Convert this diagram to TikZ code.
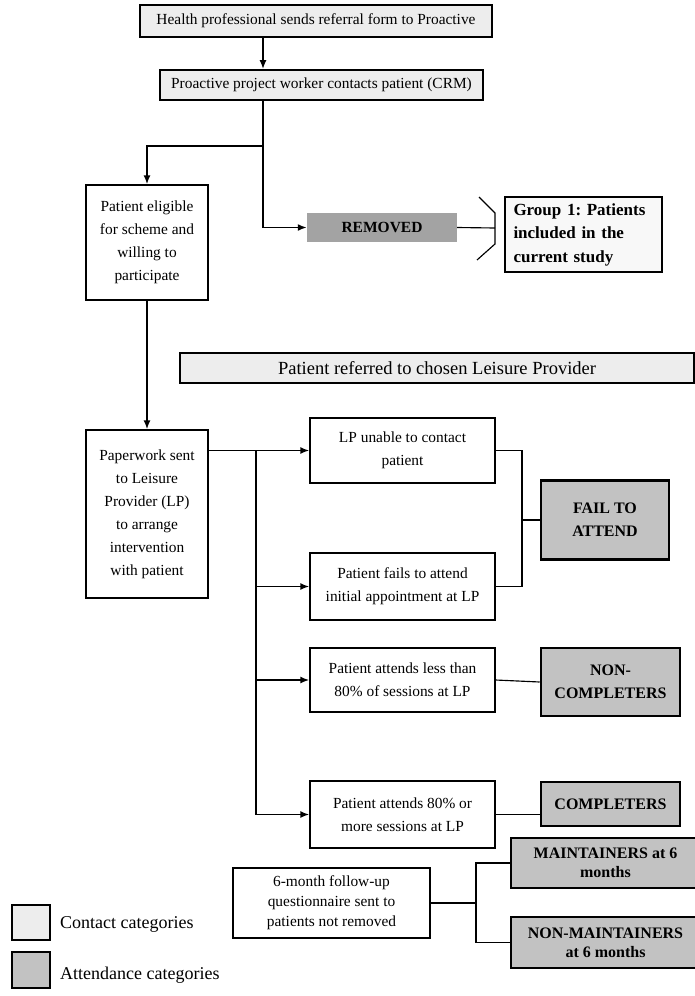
\documentclass[tikz,border=0pt]{standalone}
\usepackage{fontspec}
\setmainfont{Liberation Serif}
\frenchspacing
\usepackage{tikz}
\tikzset{
font={\fontsize{15.4pt}{23pt}\selectfont}}
\usetikzlibrary{positioning}
\usetikzlibrary{arrows.meta}
\usepackage{xcolor}
\definecolor{contactgray}{gray}{0.93}
\definecolor{attendgray}{gray}{0.76}
\definecolor{removedgray}{gray}{0.64}
\tikzset{
  plainbox/.style={draw=black, line width=0.45mm, fill=white, align=center, inner sep=1pt},
  contactbox/.style={plainbox, fill=contactgray, line width=0.6mm},
  attendbox/.style={plainbox, fill=attendgray, line width=0.9mm,
    font={\fontsize{16pt}{23pt}\selectfont\bfseries}},
  flow/.style={line width=0.6mm, arrows={-Latex[length=9pt,width=7pt]}},
  link/.style={line width=0.4mm}
}

\begin{document}
\begin{tikzpicture}[x=1pt, y=-1pt]
    \useasboundingbox (0,0) rectangle (694,996);

    % Contact boxes at the top
    \node [contactbox, minimum width=352pt, minimum height=32pt] (hp) at (316,21)
      {Health professional sends referral form to Proactive};
    \node [contactbox, minimum width=323pt, minimum height=30pt] (crm) at (321.5,85)
      {Proactive project worker contacts patient (CRM)};
    % trunk and split points
    \coordinate (trunk) at (263,0);
    \coordinate (split) at (263,146);

    % Eligible patient
    \node [plainbox, minimum width=122pt, minimum height=115pt] (elig) at (147,242.5)
      {Patient eligible\\for scheme and\\willing to\\participate};
    % Removed
    \node [fill=removedgray, minimum width=150pt, minimum height=29pt,
      font={\fontsize{15.5pt}{17pt}\selectfont\bfseries}] (removed) at (382,227.5) {REMOVED};
    % Group 1 box
    \node [draw=black, line width=0.6mm, fill=contactgray!40, align=left,
      text width=140pt, inner xsep=8.5pt, minimum height=75pt,
      font={\fontsize{17pt}{23.5pt}\selectfont\bfseries}] (group) at (583.5,234.5)
      {Group 1: Patients\\included in the\\current study};
    \coordinate (brace) at (495,228);

    \draw [flow] (hp.south -| trunk) -- (crm.north -| trunk);
    \draw [flow] (crm.south -| trunk) -- (split) -| (elig.north);
    \draw [flow] (split) |- (removed.west);
    \draw [link] (removed.east) -- (brace);
    % bracket
    \draw [link] (479,197) -- (495,213) -- (495,244) -- (477,260);

    % Leisure Provider banner
    \node [contactbox, line width=0.4mm, minimum width=514pt, minimum height=30pt,
      font={\fontsize{18.5pt}{20pt}\selectfont}] (referred) at (437,368)
      {Patient referred to chosen Leisure Provider};

    % Paperwork box
    \node [plainbox, minimum width=122pt, minimum height=168pt] (paper) at (147,514)
      {Paperwork sent\\to Leisure\\Provider (LP)\\to arrange\\intervention\\with patient};
    \draw [flow] (elig.south) -- (paper.north);

    % Outcome boxes
    \node [plainbox, minimum width=185pt, minimum height=65pt] (lpu) at (402.5,450.5)
      {LP unable to contact\\patient};
    \node [plainbox, minimum width=185pt, minimum height=67pt] (fails) at (402.5,586.5)
      {Patient fails to attend\\initial appointment at LP};
    \node [plainbox, minimum width=185pt, minimum height=64pt] (less) at (402.5,680)
      {Patient attends less than\\80\% of sessions at LP};
    \node [plainbox, minimum width=185pt, minimum height=67pt] (more) at (402.5,814.5)
      {Patient attends 80\% or\\more sessions at LP};

    % Attendance categories
    \node [attendbox, minimum width=128pt, minimum height=79pt] (fta) at (605,520)
      {FAIL TO\\ATTEND};
    \node [attendbox, minimum width=139pt, minimum height=68pt] (noncomp) at (610.5,682)
      {NON-\\COMPLETERS};
    \node [attendbox, minimum width=139pt, minimum height=44pt] (comp) at (610.5,804)
      {COMPLETERS};

    % distribution line
    \coordinate (bus) at (256,450.5);
    \draw [flow] (paper.east |- lpu.west) -- (lpu.west);
    \draw [line width=0.6mm] (bus) -- (bus |- more.west);
    \draw [flow] (bus |- fails.west) -- (fails.west);
    \draw [flow] (bus |- less.west) -- (less.west);
    \draw [flow] (bus |- more.west) -- (more.west);

    % joins to attendance boxes
    \coordinate (join) at (522,520);
    \draw [link] (lpu.east) -| (join |- fails.east) -- (fails.east);
    \draw [link] (join) -- (fta.west);
    \draw [link] (less.east) -- (noncomp.west);
    \draw [link] (more.east) -- (more.east -| comp.west);

    % Follow-up
    \node [plainbox, minimum width=197pt, minimum height=70pt, font={\fontsize{15.4pt}{20pt}\selectfont}]
      (follow) at (331.5,903)
      {6-month follow-up\\questionnaire sent to\\patients not removed};
    \node [attendbox, minimum width=189pt, minimum height=50pt, font={\fontsize{16pt}{19pt}\selectfont\bfseries}]
      (maint) at (605.5,863) {MAINTAINERS at 6\\months};
    \node [attendbox, minimum width=189pt, minimum height=51pt, font={\fontsize{16pt}{19pt}\selectfont\bfseries}]
      (nonmaint) at (605.5,942.5) {NON-MAINTAINERS\\at 6 months};
    \coordinate (fork) at (476,903);
    \draw [link] (follow.east) -- (fork);
    \draw [link] (maint.west) -| (fork) |- (nonmaint.west);

    % Legend
    \node [contactbox, line width=0.4mm, minimum width=38pt, minimum height=35pt] (keyc) at (31,922.5) {};
    \node [attendbox, line width=0.4mm, minimum width=38pt, minimum height=36pt] (keya) at (31,970) {};
    \node [anchor=west, inner sep=0pt, font={\fontsize{18pt}{20pt}\selectfont}] (keyctext) at (60,924)
      {Contact categories};
    \node [anchor=west, inner sep=0pt, font={\fontsize{18pt}{20pt}\selectfont}] (keyatext) at (60,975)
      {Attendance categories};
\end{tikzpicture}
\end{document}
